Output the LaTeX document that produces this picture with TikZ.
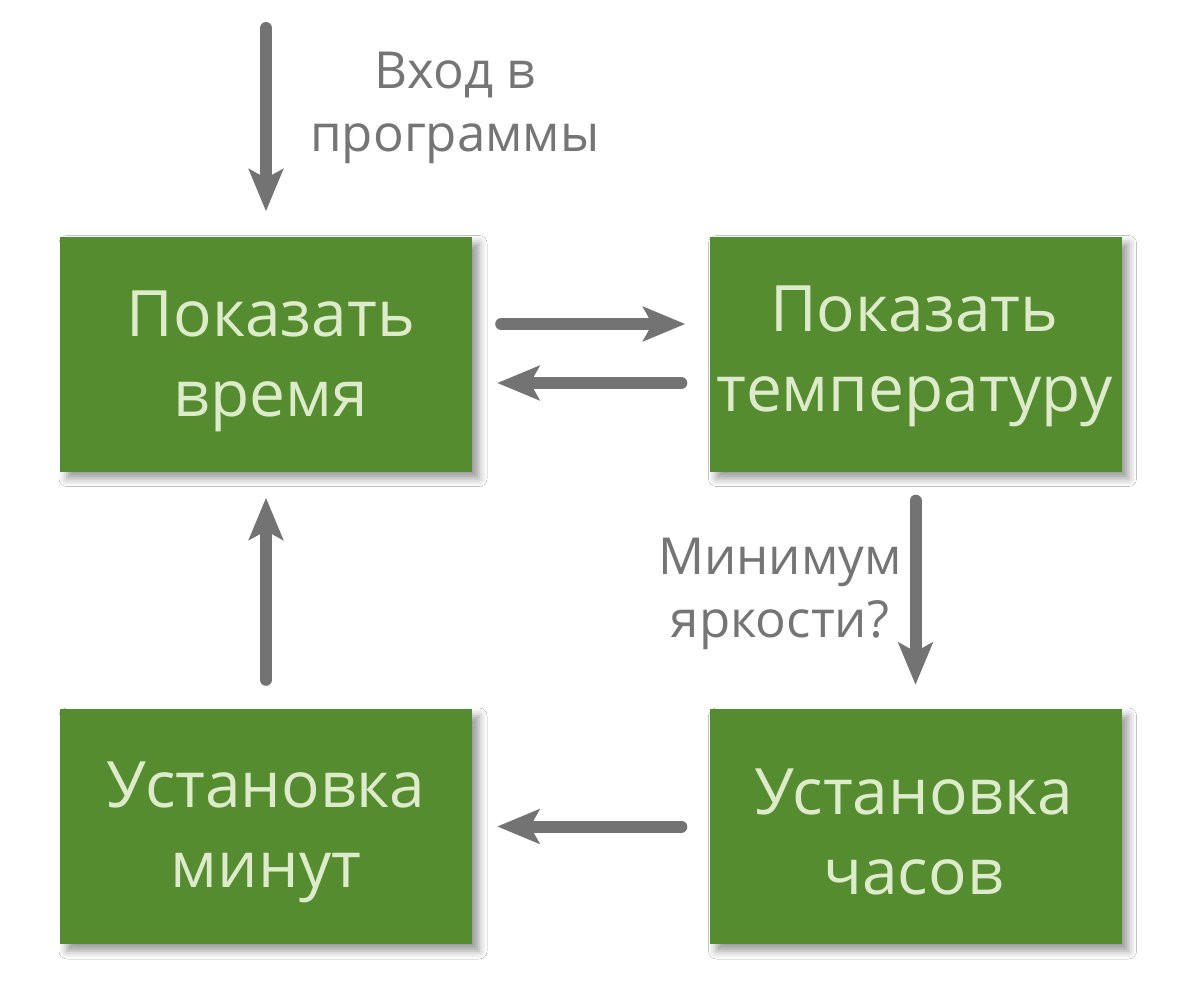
\documentclass[tikz,border=0pt]{standalone}
\usepackage{fontspec}
\setmainfont{Open Sans}
\usetikzlibrary{arrows.meta,shadows.blur}
\definecolor{boxgreen}{HTML}{548C2F}
\definecolor{boxtext}{HTML}{DDEBCB}
\definecolor{arrgray}{HTML}{737373}
\definecolor{labgray}{HTML}{757575}
\tikzset{
  box/.style={fill=boxgreen, minimum width=412pt, minimum height=235pt, inner sep=0pt,
    blur shadow={shadow xshift=7pt, shadow yshift=-7pt, shadow blur radius=8pt,
      shadow opacity=40}},
  boxlab/.style={text=boxtext, align=center, inner sep=0pt, font=\fontsize{64}{80}\selectfont},
  arr/.style={draw=arrgray, line width=12pt, line cap=round,
    -{Stealth[length=42pt, width=34pt, inset=9pt, fill=arrgray]}},
  lab/.style={text=labgray, align=center, font=\fontsize{51}{63}\selectfont}
}
\begin{document}
\begin{tikzpicture}[x=1pt,y=1pt]
\useasboundingbox (0,0) rectangle (1181,-1004);
\fill[white] (0,0) rectangle (1181,-1004);
\node[box] (b1) at (266,-354) {};
\node[box] (b2) at (915.5,-354) {};
\node[box] (b3) at (266,-826.5) {};
\node[box] (b4) at (915.5,-826.5) {};
\node[boxlab] (t1) at ([xshift=5pt,yshift=-7pt]b1.center) {Показать\\время};
\node[boxlab] (t2) at ([xshift=-1pt,yshift=-2pt]b2.center) {Показать\\температуру};
\node[boxlab] (t3) at ([yshift=-6pt]b3.center) {Установка\\минут};
\node[boxlab] (t4) at ([xshift=-2pt,yshift=-5pt]b4.center) {Установка\\часов};
\coordinate (start) at (266,-28);
\draw[arr] (start) -- ([yshift=25pt]b1.north);
\draw[arr] ([xshift=29pt,yshift=30pt]b1.east) -- ([xshift=-24pt,yshift=30pt]b2.west);
\draw[arr] ([xshift=-28pt,yshift=-29pt]b2.west) -- ([xshift=25pt,yshift=-29pt]b1.east);
\draw[arr] ([yshift=-29pt]b2.south) -- ([yshift=24pt]b4.north);
\draw[arr] ([xshift=-28pt]b4.west) -- ([xshift=25pt]b3.east);
\draw[arr] ([yshift=29pt]b3.north) -- ([yshift=-26pt]b1.south);
\node[lab] (l1) at (455,-108) {Вход в\\программы};
\node[lab] (l2) at (780,-594) {Минимум\\яркости?};
\end{tikzpicture}
\end{document}
